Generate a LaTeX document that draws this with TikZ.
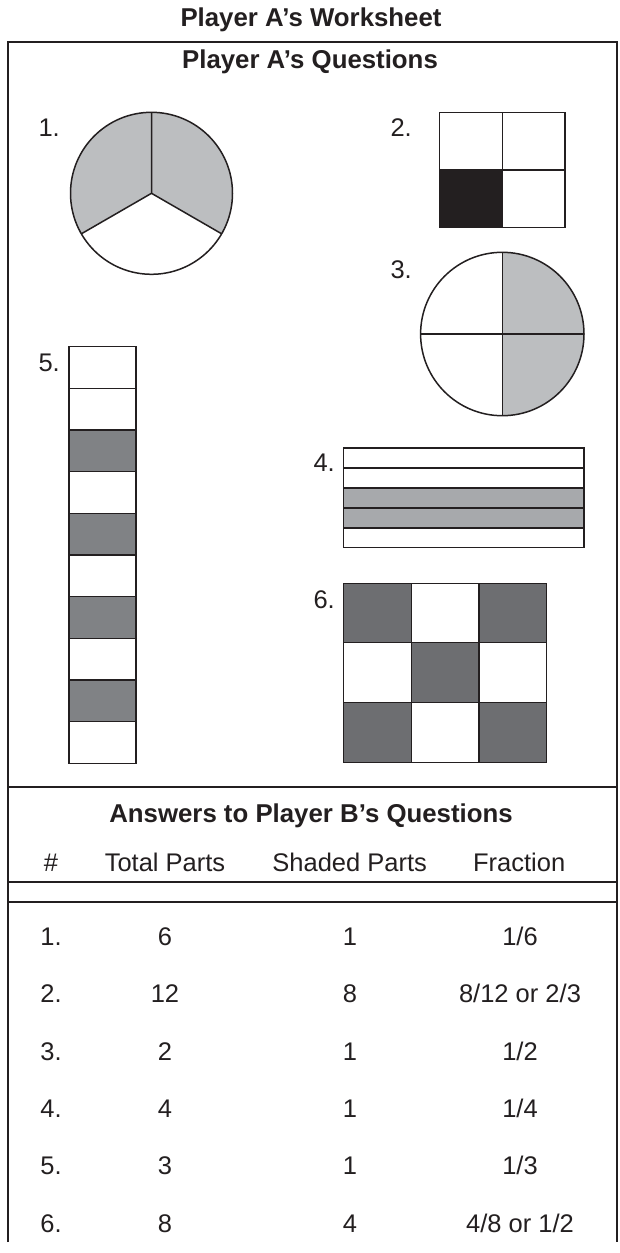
\documentclass[tikz,border=0pt]{standalone}
\usepackage{fontspec}
\setmainfont{Liberation Sans}
\definecolor{ink}{HTML}{231F20}
\definecolor{pielight}{HTML}{BCBEC0}
\definecolor{stripgray}{HTML}{A7A9AC}
\definecolor{colgray}{HTML}{808285}
\definecolor{griddark}{HTML}{6D6E71}
\begin{document}
\begin{tikzpicture}[x=1pt,y=-1pt,line join=miter,
  figline/.style={draw=ink,line width=1.5pt},
  boxline/.style={draw=ink,line width=2pt},
  lbl/.style={anchor=base east,inner sep=0pt,text=ink,font=\fontsize{25.5}{30}\selectfont},
  head/.style={anchor=base,inner sep=0pt,text=ink,font=\bfseries\fontsize{25.8}{30}\selectfont},
  tcell/.style={anchor=base,inner sep=0pt,text=ink,font=\fontsize{25.5}{30}\selectfont}]
\useasboundingbox (0,0) rectangle (619,1253);
\fill[white] (0,0) rectangle (619,1253);

% titles
\node[head] (title) at (311,26) {Player A’s Worksheet};
\node[head] (qtitle) at (310,68) {Player A’s Questions};
\node[head] (atitle) at (311,822.7) {Answers to Player B’s Questions};

% outer box
\draw[boxline] (8,1242) -- (8,41.7) -- (616.7,41.7) -- (616.7,1242);
\draw[boxline] (8,787.3) -- (616.7,787.3);
\draw[boxline] (8,881.7) -- (616.7,881.7);
\draw[boxline] (8,901.7) -- (616.7,901.7);

% 1. pie in thirds
\coordinate (c1) at (151.5,193.3);
\fill[pielight] (c1) circle[radius=81pt];
\begin{scope}
  \clip (c1) circle[radius=81pt];
  \fill[white] (c1) -- (11.2,274.3) -- (11.2,300) -- (291.8,300) -- (291.8,274.3) -- cycle;
\end{scope}
\draw[figline] (c1) circle[radius=81pt];
\draw[figline] (151.5,112.3) -- (c1) -- (81.35,233.8);
\draw[figline] (c1) -- (221.65,233.8);
\node[lbl] (l1) at (60,136.7) {1.};

% 2. square in quarters
\fill[ink] (439.3,170) rectangle (502.3,227.3);
\draw[figline] (439.3,112.3) rectangle (565,227.3);
\draw[figline] (502.3,112.3) -- (502.3,227.3);
\draw[figline] (439.3,170) -- (565,170);
\node[lbl] (l2) at (412,136.7) {2.};

% 3. circle in quarters
\coordinate (c3) at (502.3,334);
\begin{scope}
  \clip (c3) circle[radius=81.7pt];
  \fill[pielight] (502.3,250) rectangle (590,420);
\end{scope}
\draw[figline] (c3) circle[radius=81.7pt];
\draw[figline] (502.3,252.3) -- (502.3,415.7);
\draw[figline] (420.6,334) -- (584,334);
\node[lbl] (l3) at (412,278.3) {3.};

% 5. column of ten
\foreach \i in {2,4,6,8} {
  \fill[colgray] (69,{346.7+\i*41.66}) rectangle (136,{346.7+(\i+1)*41.66});
}
\draw[figline] (69,346.7) rectangle (136,763.3);
\foreach \i in {1,...,9} {
  \draw[figline] (69,{346.7+\i*41.66}) -- (136,{346.7+\i*41.66});
}
\node[lbl] (l5) at (60,371.7) {5.};

% 4. five strips
\fill[stripgray] (343.7,487.9) rectangle (584,527.8);
\draw[figline] (343.7,448) rectangle (584,547.7);
\foreach \i in {1,...,4} {
  \draw[figline] (343.7,{448+\i*19.94}) -- (584,{448+\i*19.94});
}
\node[lbl] (l4) at (335,471.7) {4.};

% 6. 3x3 grid
\fill[griddark] (343.7,583.3) rectangle (411.7,642.7);
\fill[griddark] (479,583.3) rectangle (546.7,642.7);
\fill[griddark] (411.7,642.7) rectangle (479,702.7);
\fill[griddark] (343.7,702.7) rectangle (411.7,762.7);
\fill[griddark] (479,702.7) rectangle (546.7,762.7);
\draw[figline] (343.7,583.3) rectangle (546.7,762.7);
\draw[figline] (411.7,583.3) -- (411.7,762.7);
\draw[figline] (479,583.3) -- (479,762.7);
\draw[figline] (343.7,642.7) -- (546.7,642.7);
\draw[figline] (343.7,702.7) -- (546.7,702.7);
\node[lbl] (l6) at (335,608.3) {6.};

% table header
\node[tcell] (hnum) at (51,871.7) {\#};
\node[tcell] (htot) at (165,871.7) {Total Parts};
\node[tcell] (hsh) at (349.7,871.7) {Shaded Parts};
\node[tcell] (hfr) at (519.2,871.7) {Fraction};

% table rows
\foreach \n/\t/\s/\f [count=\k from 0] in {1./6/1/1\slash 6, 2./12/8/8\slash 12 or 2\slash 3, 3./2/1/1\slash 2, 4./4/1/1\slash 4, 5./3/1/1\slash 3, 6./8/4/4\slash 8 or 1\slash 2} {
  \node[tcell] (rn\k) at (51,{945.2+\k*57.4}) {\n};
  \node[tcell] (rt\k) at (165,{945.2+\k*57.4}) {\t};
  \node[tcell] (rs\k) at (350,{945.2+\k*57.4}) {\s};
  \node[tcell] (rf\k) at (520,{945.2+\k*57.4}) {\f};
}
\end{tikzpicture}
\end{document}
